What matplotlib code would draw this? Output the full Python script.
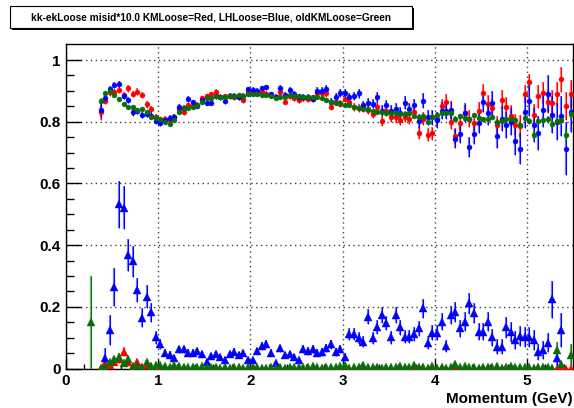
import numpy as np
import matplotlib
matplotlib.use('Agg')
import matplotlib.pyplot as plt
from matplotlib.patches import Rectangle
from matplotlib.colors import to_rgba

plt.rcParams['font.family'] = ['Liberation Sans', 'DejaVu Sans']

# bins: 0.05 GeV wide
bin_w = 0.05
eff_first = 0.375     # first efficiency bin centre
misid_first = 0.275   # first misid bin centre

title = 'kk-ekLoose misid*10.0 KMLoose=Red, LHLoose=Blue, oldKMLoose=Green'
x_label = 'Momentum (GeV)'
x_ticks = [0, 1, 2, 3, 4, 5]
x_tick_labels = ['0', '1', '2', '3', '4', '5']
y_ticks = [0, 0.2, 0.4, 0.6, 0.8, 1.0]
y_tick_labels = ['0', '0.2', '0.4', '0.6', '0.8', '1']

# efficiencies (0.375 ... 5.475)
eff_red = [
    0.830, 0.868, 0.895, 0.896, 0.902, 0.888, 0.908, 0.890, 0.898, 0.886,
    0.856, 0.842, 0.816, 0.806, 0.808, 0.806, 0.815, 0.840, 0.832, 0.853,
    0.852, 0.855, 0.876, 0.883, 0.889, 0.897, 0.881, 0.883, 0.884, 0.879,
    0.879, 0.870, 0.897, 0.894, 0.894, 0.897, 0.891, 0.886, 0.879, 0.897,
    0.865, 0.883, 0.876, 0.870, 0.876, 0.875, 0.875, 0.892, 0.892, 0.892,
    0.849, 0.865, 0.859, 0.875, 0.865, 0.849, 0.843, 0.843, 0.838, 0.825,
    0.849, 0.802, 0.836, 0.814, 0.814, 0.805, 0.816, 0.810, 0.832, 0.764,
    0.810, 0.758, 0.762, 0.808, 0.851, 0.865, 0.800, 0.754, 0.797, 0.829,
    0.810, 0.795, 0.836, 0.894, 0.857, 0.843, 0.789, 0.872, 0.849, 0.820,
    0.790, 0.786, 0.890, 0.930, 0.822, 0.883, 0.892, 0.865, 0.862, 0.890,
    0.937, 0.850, 0.890]
eff_blue = [
    0.838, 0.878, 0.905, 0.918, 0.922, 0.884, 0.870, 0.830, 0.836, 0.822,
    0.825, 0.820, 0.802, 0.795, 0.804, 0.813, 0.816, 0.847, 0.845, 0.873,
    0.863, 0.852, 0.872, 0.862, 0.862, 0.883, 0.879, 0.868, 0.883, 0.883,
    0.881, 0.883, 0.905, 0.902, 0.900, 0.908, 0.911, 0.889, 0.879, 0.908,
    0.886, 0.902, 0.891, 0.879, 0.879, 0.879, 0.875, 0.900, 0.900, 0.906,
    0.865, 0.879, 0.894, 0.894, 0.879, 0.883, 0.892, 0.853, 0.862, 0.859,
    0.881, 0.836, 0.853, 0.836, 0.840, 0.829, 0.862, 0.840, 0.853, 0.802,
    0.868, 0.814, 0.814, 0.805, 0.836, 0.836, 0.838, 0.745, 0.760, 0.829,
    0.719, 0.760, 0.797, 0.865, 0.827, 0.862, 0.754, 0.810, 0.789, 0.800,
    0.738, 0.712, 0.830, 0.868, 0.790, 0.764, 0.838, 0.890, 0.822, 0.800,
    0.820, 0.713, 0.832]
eff_green = [
    0.868, 0.893, 0.900, 0.888, 0.875, 0.858, 0.847, 0.848, 0.838, 0.840,
    0.832, 0.815, 0.813, 0.808, 0.800, 0.794, 0.806, 0.832, 0.843, 0.845,
    0.848, 0.853, 0.864, 0.877, 0.877, 0.883, 0.881, 0.881, 0.883, 0.883,
    0.886, 0.883, 0.889, 0.889, 0.889, 0.886, 0.886, 0.883, 0.876, 0.879,
    0.879, 0.886, 0.883, 0.883, 0.879, 0.881, 0.881, 0.881, 0.876, 0.870,
    0.865, 0.862, 0.862, 0.854, 0.854, 0.849, 0.843, 0.840, 0.840, 0.836,
    0.832, 0.832, 0.829, 0.829, 0.829, 0.825, 0.825, 0.827, 0.820, 0.814,
    0.818, 0.800, 0.814, 0.822, 0.827, 0.829, 0.827, 0.810, 0.818, 0.813,
    0.808, 0.822, 0.813, 0.808, 0.808, 0.816, 0.800, 0.801, 0.808, 0.810,
    0.806, 0.789, 0.811, 0.803, 0.757, 0.803, 0.805, 0.808, 0.792, 0.803,
    0.805, 0.757, 0.825]

eff_red_err = [
    0.025, 0.012, 0.010, 0.010, 0.010, 0.010, 0.010, 0.010, 0.010, 0.010,
    0.010, 0.010, 0.009, 0.009, 0.009, 0.009, 0.009, 0.009, 0.009, 0.009,
    0.008, 0.008, 0.008, 0.008, 0.008, 0.008, 0.008, 0.008, 0.008, 0.008,
    0.008, 0.008, 0.008, 0.008, 0.008, 0.008, 0.008, 0.008, 0.009, 0.009,
    0.009, 0.009, 0.009, 0.010, 0.010, 0.010, 0.010, 0.010, 0.010, 0.011,
    0.011, 0.011, 0.012, 0.012, 0.012, 0.013, 0.013, 0.013, 0.014, 0.014,
    0.015, 0.015, 0.016, 0.016, 0.017, 0.017, 0.018, 0.018, 0.019, 0.020,
    0.020, 0.021, 0.021, 0.022, 0.023, 0.025, 0.024, 0.025, 0.026, 0.026,
    0.027, 0.027, 0.028, 0.027, 0.029, 0.030, 0.030, 0.031, 0.032, 0.033,
    0.034, 0.035, 0.030, 0.026, 0.036, 0.037, 0.036, 0.038, 0.040, 0.040,
    0.040, 0.045, 0.045]
eff_blue_err = [
    0.022, 0.012, 0.010, 0.010, 0.010, 0.010, 0.010, 0.010, 0.010, 0.010,
    0.010, 0.010, 0.009, 0.009, 0.009, 0.009, 0.009, 0.009, 0.009, 0.009,
    0.009, 0.009, 0.009, 0.009, 0.009, 0.009, 0.009, 0.009, 0.009, 0.009,
    0.009, 0.009, 0.009, 0.009, 0.009, 0.009, 0.009, 0.009, 0.010, 0.010,
    0.010, 0.010, 0.010, 0.011, 0.011, 0.011, 0.011, 0.012, 0.012, 0.012,
    0.012, 0.013, 0.013, 0.013, 0.014, 0.014, 0.015, 0.015, 0.016, 0.016,
    0.017, 0.018, 0.018, 0.019, 0.020, 0.020, 0.021, 0.022, 0.022, 0.023,
    0.024, 0.025, 0.025, 0.026, 0.027, 0.028, 0.028, 0.030, 0.030, 0.031,
    0.032, 0.033, 0.034, 0.035, 0.036, 0.037, 0.040, 0.040, 0.042, 0.043,
    0.045, 0.050, 0.050, 0.050, 0.055, 0.055, 0.055, 0.060, 0.060, 0.060,
    0.065, 0.085, 0.065]
eff_green_err = [
    0.008, 0.005, 0.004, 0.004, 0.004, 0.004, 0.004, 0.004, 0.004, 0.004,
    0.004, 0.004, 0.004, 0.004, 0.004, 0.004, 0.004, 0.004, 0.004, 0.004,
    0.004, 0.004, 0.004, 0.004, 0.004, 0.004, 0.004, 0.004, 0.004, 0.004,
    0.004, 0.004, 0.004, 0.004, 0.004, 0.004, 0.004, 0.004, 0.004, 0.004,
    0.004, 0.004, 0.004, 0.004, 0.004, 0.004, 0.004, 0.004, 0.004, 0.004,
    0.005, 0.005, 0.005, 0.005, 0.005, 0.005, 0.005, 0.005, 0.005, 0.005,
    0.005, 0.005, 0.005, 0.005, 0.005, 0.006, 0.006, 0.006, 0.006, 0.006,
    0.006, 0.006, 0.006, 0.006, 0.006, 0.007, 0.007, 0.007, 0.007, 0.007,
    0.007, 0.007, 0.008, 0.008, 0.008, 0.008, 0.008, 0.008, 0.009, 0.009,
    0.009, 0.009, 0.009, 0.010, 0.012, 0.010, 0.010, 0.011, 0.012, 0.012,
    0.012, 0.015, 0.015]

# misid*10 (0.275 ... 5.475), nan = no point
nan = np.nan
misid_red = [
    nan, nan, 0.000, 0.017, 0.012, 0.020, 0.030, 0.055, 0.020, 0.008,
    0.022, 0.006, 0.010, 0.004, 0.006, 0.004,
    0.003, 0.000, 0.002, 0.000, 0.000, 0.000, 0.002, 0.000, 0.000, 0.000,
    0.000, 0.000, 0.000, 0.002, 0.000, 0.000, 0.000, 0.000, 0.000, 0.000,
    0.000, 0.000, 0.000, 0.000, 0.000, 0.000, 0.000, 0.000, 0.000, 0.000,
    0.000, 0.000, 0.002, 0.000, 0.000, 0.000, 0.000, 0.000, 0.000, 0.000,
    0.000, 0.000, 0.000, 0.004, 0.000, 0.000, 0.000, 0.000, 0.000, 0.000,
    0.000, 0.000, 0.000, 0.000, 0.000, 0.000, 0.003, 0.000, 0.000, 0.000,
    0.000, 0.000, 0.000, 0.002, 0.000, 0.000, 0.000, 0.000, 0.000, 0.000,
    0.000, 0.000, 0.000, 0.000, 0.000, 0.000, 0.000, 0.000, 0.000, 0.000,
    0.000, 0.000, 0.000, 0.000, 0.000, 0.000, 0.000, 0.000, 0.000]
misid_blue = [
    nan, nan, nan, 0.033, 0.125, 0.263, 0.532, 0.521, 0.368, 0.348,
    0.254, 0.165, 0.233, 0.182, 0.101, 0.079,
    0.051, 0.044, 0.033, 0.062, 0.062, 0.051, 0.051, 0.056, 0.047, 0.022,
    0.040, 0.047, 0.036, 0.029, 0.047, 0.054, 0.043, 0.049, 0.029, 0.026,
    0.057, 0.072, 0.078, 0.051, 0.018, 0.065, 0.043, 0.047, 0.038, 0.026,
    0.062, 0.057, 0.062, 0.051, 0.054, 0.065, 0.079, 0.054, 0.062, 0.038,
    0.112, 0.112, 0.098, 0.087, 0.168, 0.098, 0.135, 0.173, 0.148, 0.101,
    0.173, 0.133, 0.103, 0.103, 0.112, 0.130, 0.195, 0.084, 0.116, 0.116,
    0.152, 0.073, 0.173, 0.184, 0.130, 0.152, 0.211, 0.179, 0.119, 0.119,
    0.152, 0.101, 0.071, 0.071, 0.133, 0.119, 0.092, 0.105, 0.101, 0.101,
    0.092, 0.054, 0.060, 0.084, 0.224, 0.033, 0.125, nan, nan]
misid_green = [
    0.150, nan, 0.003, 0.006, 0.020, 0.031, 0.038, 0.017, 0.031, 0.006,
    0.011, 0.003, 0.020, 0.009, 0.011, 0.011,
    0.008, 0.006, 0.010, 0.008, 0.006, 0.004, 0.006, 0.005, 0.008, 0.004,
    0.006, 0.004, 0.003, 0.005, 0.002, 0.004, 0.006, 0.003, 0.005, 0.006,
    0.004, 0.002, 0.003, 0.005, 0.002, 0.004, 0.003, 0.005, 0.004, 0.006,
    0.004, 0.005, 0.008, 0.004, 0.003, 0.006, 0.004, 0.005, 0.007, 0.010,
    0.003, 0.005, 0.004, 0.012, 0.006, 0.004, 0.005, 0.003, 0.006, 0.004,
    0.004, 0.008, 0.006, 0.004, 0.010, 0.005, 0.006, 0.003, 0.008, 0.002,
    0.004, 0.003, 0.005, 0.014, 0.006, 0.008, 0.005, 0.004, 0.003, 0.005,
    0.006, 0.004, 0.008, 0.003, 0.005, 0.007, 0.004, 0.006, 0.004, 0.005,
    0.003, 0.006, 0.004, 0.005, 0.003, 0.060, 0.015, nan, 0.044]

misid_red_err = [
    nan, nan, 0.004, 0.010, 0.008, 0.010, 0.012, 0.015, 0.010, 0.006,
    0.010, 0.005, 0.006, 0.004, 0.004, 0.003,
    0.003, 0.002, 0.002, 0.002, 0.002, 0.002, 0.002, 0.002, 0.002, 0.002,
    0.002, 0.002, 0.002, 0.002, 0.002, 0.002, 0.002, 0.002, 0.002, 0.002,
    0.002, 0.002, 0.002, 0.002, 0.002, 0.002, 0.002, 0.002, 0.002, 0.002,
    0.002, 0.002, 0.002, 0.002, 0.002, 0.002, 0.002, 0.002, 0.002, 0.002,
    0.002, 0.002, 0.002, 0.004, 0.002, 0.002, 0.002, 0.002, 0.002, 0.002,
    0.002, 0.002, 0.002, 0.002, 0.002, 0.002, 0.003, 0.002, 0.002, 0.002,
    0.002, 0.002, 0.002, 0.002, 0.002, 0.002, 0.002, 0.002, 0.002, 0.002,
    0.002, 0.002, 0.002, 0.002, 0.002, 0.002, 0.002, 0.002, 0.002, 0.002,
    0.002, 0.002, 0.002, 0.002, 0.002, 0.002, 0.002, 0.002, 0.002]
misid_blue_err = [
    nan, nan, nan, 0.035, 0.050, 0.062, 0.075, 0.070, 0.053, 0.050,
    0.040, 0.030, 0.037, 0.030, 0.020, 0.016,
    0.012, 0.012, 0.010, 0.012, 0.012, 0.011, 0.011, 0.011, 0.010, 0.008,
    0.010, 0.010, 0.009, 0.008, 0.010, 0.011, 0.010, 0.010, 0.008, 0.008,
    0.011, 0.013, 0.013, 0.011, 0.007, 0.012, 0.010, 0.011, 0.010, 0.009,
    0.013, 0.012, 0.013, 0.012, 0.012, 0.013, 0.015, 0.012, 0.013, 0.011,
    0.020, 0.020, 0.019, 0.018, 0.025, 0.019, 0.022, 0.025, 0.023, 0.020,
    0.026, 0.023, 0.021, 0.021, 0.022, 0.024, 0.030, 0.020, 0.025, 0.025,
    0.028, 0.020, 0.030, 0.032, 0.028, 0.030, 0.035, 0.033, 0.028, 0.028,
    0.032, 0.027, 0.024, 0.025, 0.033, 0.032, 0.030, 0.032, 0.032, 0.032,
    0.032, 0.026, 0.028, 0.032, 0.060, 0.025, 0.055, nan, nan]
misid_green_err = [
    0.150, nan, 0.003, 0.004, 0.008, 0.010, 0.012, 0.008, 0.010, 0.004,
    0.006, 0.003, 0.008, 0.005, 0.005, 0.005,
    0.004, 0.004, 0.005, 0.004, 0.004, 0.003, 0.004, 0.003, 0.004, 0.003,
    0.004, 0.003, 0.003, 0.003, 0.002, 0.003, 0.004, 0.003, 0.003, 0.004,
    0.003, 0.002, 0.003, 0.003, 0.002, 0.003, 0.003, 0.003, 0.003, 0.004,
    0.003, 0.003, 0.005, 0.003, 0.003, 0.004, 0.003, 0.004, 0.005, 0.006,
    0.003, 0.004, 0.003, 0.007, 0.004, 0.003, 0.004, 0.003, 0.004, 0.003,
    0.003, 0.005, 0.004, 0.003, 0.006, 0.004, 0.004, 0.003, 0.005, 0.002,
    0.003, 0.003, 0.004, 0.008, 0.004, 0.005, 0.004, 0.003, 0.003, 0.004,
    0.004, 0.003, 0.005, 0.003, 0.004, 0.005, 0.003, 0.004, 0.003, 0.004,
    0.003, 0.004, 0.003, 0.004, 0.003, 0.025, 0.010, nan, 0.035]

RED = '#ff0000'
BLUE = '#0000ff'
GREEN = '#0b6e0b'

fig = plt.figure(figsize=(5.74, 4.08), dpi=100)
W, H = 574.0, 408.0
ax = fig.add_axes([66 / W, 1 - 368.5 / H, (573 - 66) / W, (368.5 - 44) / H])

eff_x = eff_first + bin_w * np.arange(len(eff_red))
mis_x = misid_first + bin_w * np.arange(len(misid_red))


def draw(x, y, e, color, marker, ms):
    ax.errorbar(x, y, yerr=e, fmt='none', ecolor=to_rgba(color, 0.55),
                elinewidth=1.6, capsize=0, zorder=3)
    ax.errorbar(x, y, yerr=e, fmt='none', ecolor=color,
                elinewidth=0.7, capsize=0, zorder=3)
    ax.plot(x, y, linestyle='none', marker=marker, ms=ms, color=color,
            mec=color, mew=0.3, zorder=4)


draw(eff_x, eff_red, eff_red_err, RED, 'o', 3.6)
draw(eff_x, eff_blue, eff_blue_err, BLUE, 'o', 3.6)
draw(eff_x, eff_green, eff_green_err, GREEN, 'o', 3.6)
draw(mis_x, misid_red, misid_red_err, RED, '^', 5.2)
draw(mis_x, misid_blue, misid_blue_err, BLUE, '^', 5.2)
draw(mis_x, misid_green, misid_green_err, GREEN, '^', 5.2)

ax.set_xlim(0, 5.5)
ax.set_ylim(0, 1.052)
ax.set_xticks(x_ticks)
ax.set_xticklabels(x_tick_labels)
ax.set_yticks(y_ticks)
ax.set_yticklabels(y_tick_labels)
ax.set_xticks(np.arange(0, 5.5, 0.2), minor=True)
ax.set_yticks(np.arange(0, 1.05, 0.05), minor=True)
ax.tick_params(axis='both', which='both', direction='in', top=False, right=False,
               width=1.0, labelsize=11)
ax.tick_params(axis='y', which='major', length=11, pad=4)
ax.tick_params(axis='y', which='minor', length=5.5)
ax.tick_params(axis='x', which='major', length=7, pad=4)
ax.tick_params(axis='x', which='minor', length=3.5)
for lab in ax.get_xticklabels() + ax.get_yticklabels():
    lab.set_fontweight('bold')

ax.grid(True, which='major', color='0.25', linestyle=(0, (1, 2.5)), linewidth=1.0)
ax.set_axisbelow(True)
for sp in ax.spines.values():
    sp.set_linewidth(1.0)

ax.set_xlabel(x_label, loc='right', fontsize=11, fontweight='bold', labelpad=3)

# title box with shadow
bx0, by0, bx1, by1 = 10, 6, 412, 28
fig.patches.append(Rectangle(((bx0 + 2) / W, 1 - (by1 + 2) / H),
                             (bx1 - bx0) / W, (by1 - by0) / H,
                             transform=fig.transFigure, facecolor='black',
                             edgecolor='black', lw=0, zorder=1))
fig.patches.append(Rectangle((bx0 / W, 1 - by1 / H), (bx1 - bx0) / W, (by1 - by0) / H,
                             transform=fig.transFigure, facecolor='white',
                             edgecolor='black', lw=0.8, zorder=2))
fig.text((bx0 + bx1) / 2 / W, 1 - (by0 + by1) / 2 / H, title, ha='center', va='center',
         fontsize=7.3, fontweight='bold', zorder=3)

fig.savefig('out.png', dpi=100)
